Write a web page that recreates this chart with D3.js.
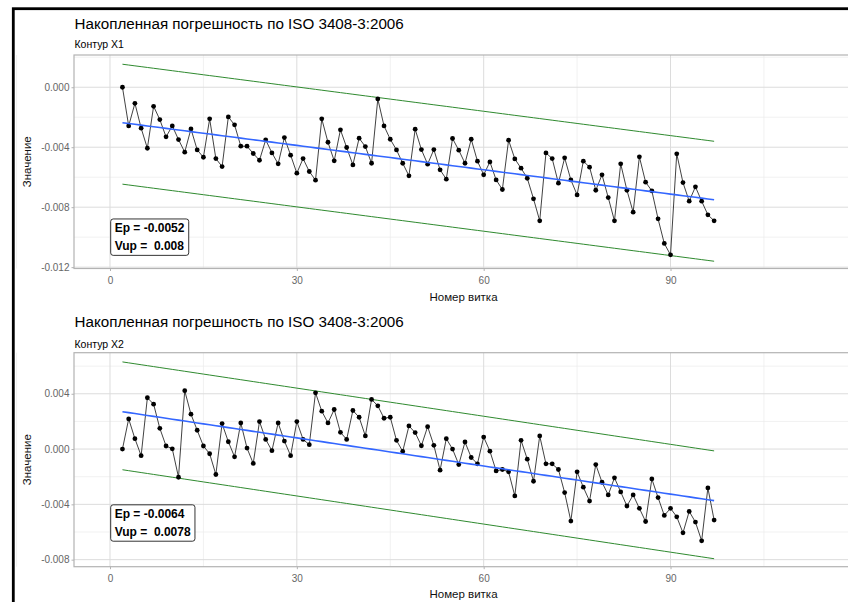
<!DOCTYPE html>
<html>
<head>
<meta charset="utf-8">
<script src="https://cdn.jsdelivr.net/npm/d3@7"></script>
<style>
body { margin: 0; background: #fff; }
text { font-family: "Liberation Sans", Arial, sans-serif; }
</style>
</head>
<body>
<svg id="chart" width="848" height="602"></svg>
<script>
// номера витков
const turns = d3.range(2, 98);

// накопленная погрешность, контур X1
const errX1 = [
  0.0000, -0.00258, -0.00107, -0.00273, -0.00407, -0.00127, -0.00216, -0.00331, -0.00258, -0.00349,
  -0.00433, -0.00278, -0.00418, -0.00467, -0.00211, -0.00476, -0.00529, -0.00198, -0.00251, -0.00393,
  -0.00393, -0.00442, -0.00487, -0.00351, -0.00438, -0.00511, -0.00336, -0.00453, -0.00573, -0.00476,
  -0.00562, -0.00620, -0.00211, -0.00367, -0.00491, -0.00284, -0.00402, -0.00518, -0.00340, -0.00396,
  -0.00507, -0.00078, -0.00258, -0.00347, -0.00418, -0.00507, -0.00591, -0.00280, -0.00416, -0.00513,
  -0.00416, -0.00551, -0.00613, -0.00342, -0.00420, -0.00507, -0.00347, -0.00493, -0.00584, -0.00498,
  -0.00618, -0.00682, -0.00353, -0.00478, -0.00540, -0.00607, -0.00744, -0.00891, -0.00438, -0.00476,
  -0.00640, -0.00471, -0.00618, -0.00718, -0.00493, -0.00533, -0.00687, -0.00584, -0.00736, -0.00891,
  -0.00511, -0.00687, -0.00833, -0.00464, -0.00633, -0.00691, -0.00878, -0.01042, -0.01118, -0.00444,
  -0.00636, -0.00760, -0.00664, -0.00760, -0.00851, -0.00891
];

// накопленная погрешность, контур X2
const errX2 = [
  0.0000, 0.00218, 0.00075, -0.00048, 0.00371, 0.00325, 0.00150, 0.00022, 0.00002, -0.00204,
  0.00422, 0.00252, 0.00136, 0.00022, -0.00034, -0.00184, 0.00184, 0.00053, -0.00056, 0.00189,
  0.00007, -0.00104, 0.00199, 0.00070, -0.00012, 0.00189, 0.00058, -0.00048, 0.00199, 0.00070,
  0.00032, 0.00407, 0.00274, 0.00189, 0.00286, 0.00121, 0.00070, 0.00279, 0.00230, 0.00095,
  0.00359, 0.00313, 0.00223, 0.00230, 0.00063, -0.00017, 0.00167, 0.00119, 0.00024, 0.00162,
  0.00027, -0.00153, 0.00075, 0.00000, -0.00112, 0.00051, -0.00061, -0.00107, 0.00087, -0.00015,
  -0.00158, -0.00148, -0.00165, -0.00339, 0.00063, -0.00073, -0.00233, 0.00095, -0.00107, -0.00107,
  -0.00148, -0.00315, -0.00521, -0.00165, -0.00276, -0.00376, -0.00112, -0.00240, -0.00332, -0.00208,
  -0.00310, -0.00412, -0.00332, -0.00429, -0.00524, -0.00216, -0.00351, -0.00480, -0.00429, -0.00490,
  -0.00606, -0.00451, -0.00528, -0.00664, -0.00281, -0.00514
];

const xTicks = [0, 30, 60, 90, 120];
const yTicksX1 = [0, -0.004, -0.008, -0.012];
const yTicksX2 = [0.004, 0, -0.004, -0.008];

// Ep и Vup для каждого контура
const epValues = [-0.0052, -0.0064];
const vupLabels = ["0.008", "0.0078"];
// смещение зелёных границ от линии тренда (верх / низ)
const bandUpper = [0.0039, 0.0036];
const bandLower = [-0.0041, -0.0042];

const titleText = "Накопленная погрешность по ISO 3408-3:2006";
const subtitles = ["Контур X1", "Контур X2"];

const svg = d3.select("#chart");
const W = 848;

// рамка скриншота
svg.append("rect").attr("x", 13.3).attr("y", 8.7).attr("width", 900).attr("height", 700)
  .attr("fill", "none").attr("stroke", "#000").attr("stroke-width", 2.8);

const layout = [
  { top: 55, bottom: 268.5, yDomain: [-0.01209, 0.00215], titleY: 29, subY: 48, labY: 301, labelAt: -0.0100, yTicks: yTicksX1 },
  { top: 352.7, bottom: 566.7, yDomain: [-0.00851, 0.00697], titleY: 327, subY: 348, labY: 598, labelAt: -0.00535, yTicks: yTicksX2 }
];
const series = [errX1, errX2];

const fmt = d => d3.format(".3f")(d).replace("\u2212", "-");

function linFit(xs, ys) {
  const mx = d3.mean(xs), my = d3.mean(ys);
  let sxy = 0, sxx = 0;
  xs.forEach((x, i) => { sxy += (x - mx) * (ys[i] - my); sxx += (x - mx) * (x - mx); });
  const b = sxy / sxx;
  return x => my + b * (x - mx);
}

layout.forEach((L, p) => {
  const vals = series[p];
  const data = turns.map((t, i) => ({ t, v: vals[i] }));
  const x = d3.scaleLinear().domain([-5.78, 119.3]).range([74, 853]);
  const y = d3.scaleLinear().domain(L.yDomain).range([L.bottom, L.top]);
  const g = svg.append("g");

  // заголовки
  g.append("text").attr("x", 74.5).attr("y", L.titleY).attr("font-size", 15.2).attr("fill", "#000").text(titleText);
  g.append("text").attr("x", 74.5).attr("y", L.subY).attr("font-size", 10.5).attr("fill", "#000").text(subtitles[p]);

  // сетка
  const yMinor = L.yTicks.slice(0, -1).map((d, i) => (d + L.yTicks[i + 1]) / 2).concat([L.yTicks[0] + (L.yTicks[0] - L.yTicks[1]) / 2]);
  const xMinor = xTicks.map(d => d - 15).concat([xTicks[xTicks.length - 1] + 15]);
  g.selectAll(".ymin").data(yMinor.filter(d => y(d) > L.top && y(d) < L.bottom)).join("line")
    .attr("x1", 74).attr("x2", W).attr("y1", d => y(d)).attr("y2", d => y(d))
    .attr("stroke", "#ebebeb").attr("stroke-width", 0.7);
  g.selectAll(".xmin").data(xMinor).join("line")
    .attr("x1", d => x(d)).attr("x2", d => x(d)).attr("y1", L.top).attr("y2", L.bottom)
    .attr("stroke", "#ebebeb").attr("stroke-width", 0.7);
  g.selectAll(".ymaj").data(L.yTicks).join("line")
    .attr("x1", 74).attr("x2", W).attr("y1", d => y(d)).attr("y2", d => y(d))
    .attr("stroke", "#dcdcdc").attr("stroke-width", 1);
  g.selectAll(".xmaj").data(xTicks).join("line")
    .attr("x1", d => x(d)).attr("x2", d => x(d)).attr("y1", L.top).attr("y2", L.bottom)
    .attr("stroke", "#dcdcdc").attr("stroke-width", 1);

  // рамка панели
  g.append("rect").attr("x", 74).attr("y", L.top).attr("width", 853 - 74).attr("height", L.bottom - L.top)
    .attr("fill", "none").attr("stroke", "#b3b3b3").attr("stroke-width", 1.2);

  // оси
  const yAxis = d3.axisLeft(y).tickValues(L.yTicks).tickFormat(fmt).tickSize(2.5).tickPadding(2);
  const ya = g.append("g").attr("transform", "translate(74,0)").call(yAxis);
  const xAxis = d3.axisBottom(x).tickValues(xTicks.filter(d => x(d) < W)).tickSize(2.5).tickPadding(6);
  const xa = g.append("g").attr("transform", `translate(0,${L.bottom})`).call(xAxis);
  [ya, xa].forEach(a => {
    a.select(".domain").remove();
    a.selectAll("line").attr("stroke", "#b3b3b3");
    a.selectAll("text").attr("fill", "#666").attr("font-size", 10)
      .attr("font-family", "Liberation Sans, Arial, sans-serif");
  });

  g.append("text").attr("transform", `translate(31,${(L.top + L.bottom) / 2}) rotate(-90)`)
    .attr("text-anchor", "middle").attr("font-size", 11.5).attr("fill", "#111").text("Значение");
  g.append("text").attr("x", 463.5).attr("y", L.labY).attr("text-anchor", "middle")
    .attr("font-size", 11.5).attr("fill", "#111").text("Номер витка");

  // тренд и границы
  const fit = linFit(turns, vals);
  const line = d3.line().x(d => x(d.t)).y(d => y(d.v));
  g.append("path").datum(turns.map(t => ({ t, v: fit(t) + bandUpper[p] })))
    .attr("d", line).attr("fill", "none").attr("stroke", "#2f8a2f").attr("stroke-width", 1);
  g.append("path").datum(turns.map(t => ({ t, v: fit(t) + bandLower[p] })))
    .attr("d", line).attr("fill", "none").attr("stroke", "#2f8a2f").attr("stroke-width", 1);

  // данные
  g.append("path").datum(data).attr("d", line).attr("fill", "none")
    .attr("stroke", "#111").attr("stroke-width", 0.8);
  g.selectAll(".pt").data(data).join("circle")
    .attr("cx", d => x(d.t)).attr("cy", d => y(d.v)).attr("r", 2.4).attr("fill", "#000");

  g.append("path").datum(turns.map(t => ({ t, v: fit(t) })))
    .attr("d", line).attr("fill", "none").attr("stroke", "#3366ff").attr("stroke-width", 1.6);

  // подпись Ep / Vup
  const lab = g.append("g");
  const t1 = lab.append("text").attr("font-size", 12).attr("font-weight", "bold").attr("fill", "#000")
    .style("white-space", "pre");
  t1.append("tspan").attr("x", 0).attr("y", 0).text("Ep = " + d3.format(".4f")(epValues[p]).replace("\u2212", "-"));
  t1.append("tspan").attr("x", 0).attr("y", 17.4).text("Vup =  " + vupLabels[p]);
  const bb = t1.node().getBBox();
  const pad = 4;
  lab.insert("rect", "text").attr("x", bb.x - pad).attr("y", bb.y - 2.5)
    .attr("width", bb.width + 2 * pad).attr("height", bb.height + 5)
    .attr("rx", 2.5).attr("fill", "#fff").attr("stroke", "#000").attr("stroke-width", 0.8);
  const boxH = bb.height + 5;
  lab.attr("transform", `translate(${x(0) + 0.7 + pad - bb.x},${y(L.labelAt) - boxH / 2 - (bb.y - 2.5)})`);
});
</script>
</body>
</html>
